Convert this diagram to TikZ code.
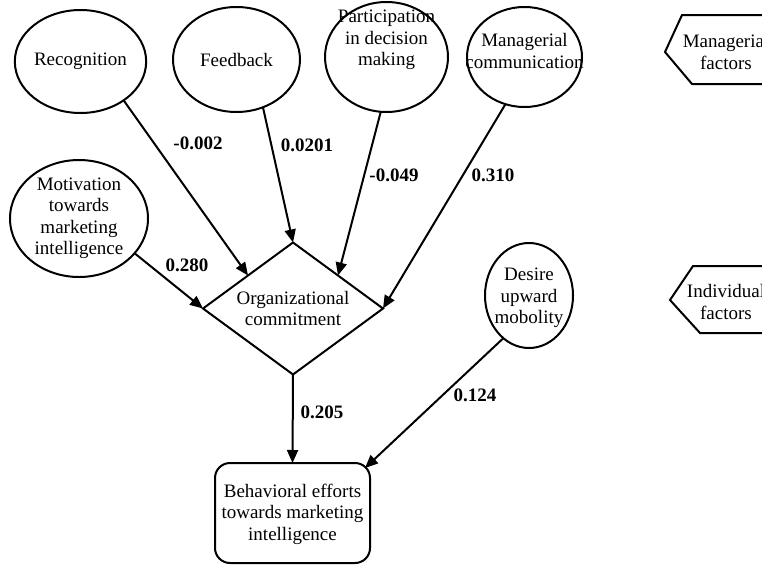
\documentclass[tikz,border=0pt]{standalone}
\usepackage{fontspec}
\setmainfont{Liberation Serif}
\usetikzlibrary{shapes.geometric,arrows.meta,calc}
\begin{document}
\begin{tikzpicture}[x=1pt,y=-1pt,
  every node/.style={font=\fontsize{19}{21.5}\selectfont, align=center, outer sep=0pt},
  ell/.style={draw, ellipse, line width=2pt, inner sep=0pt},
  dia/.style={draw, diamond, line width=2pt, inner sep=0pt, aspect=1.36, minimum width=180pt, minimum height=132pt},
  box/.style={draw, rectangle, rounded corners=15pt, line width=2pt, inner sep=0pt, minimum width=155pt, minimum height=100pt},
  txt/.style={inner sep=0pt},
  lab/.style={inner sep=0pt, font=\fontsize{19}{21.5}\selectfont\bfseries},
  arr/.style={line width=2pt, -{Triangle[length=13pt,width=11pt]}},
  hexa/.style={draw, line width=2pt, line join=miter}
]
\useasboundingbox (0,0) rectangle (762,565);
\clip (0,0) rectangle (762,565);

% ellipses
\node[ell, minimum width=115pt, minimum height=103pt] (rec) at (80.5,61.5) {Recognition};
\node[ell, minimum width=127pt, minimum height=105pt] (fb) at (236.5,59.5) {Feedback};
\node[ell, minimum width=123pt, minimum height=110pt] (par) at (386.5,57) {};
\node[txt] (partxt) at (386.5,40) {Participation\\in decision\\making};
\node[ell, minimum width=115pt, minimum height=100pt] (mc) at (524.5,57) {};
\node[txt] (mctxt) at (524.5,51) {Managerial\\communication};
\node[ell, minimum width=138pt, minimum height=117pt] (mot) at (79,218.5) {Motivation\\towards\\marketing\\intelligence};
\node[ell, minimum width=88pt, minimum height=105pt] (des) at (529,295.5) {};
\node[txt] (destxt) at (529,298) {Desire\\upward\\mobolity};

% diamond and box
\node[dia] (oc) at (293,308.5) {Organizational\\commitment};
\node[box] (beh) at (292.5,513) {};
\node[txt] (behtxt) at (292.5,514) {Behavioral efforts\\towards marketing\\intelligence};

% factor tags (cut by the right edge, as in the reference)
\draw[hexa] (682,15) -- (665,52) -- (692,84) -- (790,84) -- (790,15) -- cycle;
\node[txt] (mf) at (726,52) {Managerial\\factors};
\draw[hexa] (693,266) -- (670,300) -- (700,333) -- (790,333) -- (790,266) -- cycle;
\node[txt] (inf) at (726,302) {Individual\\factors};

% connectors
\draw[arr] (rec.-42) -- (oc.north west);
\draw[arr] (fb.-61) -- (oc.north);
\draw[arr] (par.-96) -- (oc.north east);
\draw[arr] (mc.-112) -- (oc.east);
\draw[arr] (mot.-32) -- (oc.west);
\draw[arr] (oc.south) -- (beh.north);
\draw[arr] (des.-121) -- ([xshift=-5pt,yshift=-5pt]beh.north east);

% labels
\node[lab] (l1) at (198,143) {-0.002};
\node[lab] (l2) at (307,145) {0.0201};
\node[lab] (l3) at (394,175) {-0.049};
\node[lab] (l4) at (493,175) {0.310};
\node[lab] (l5) at (187,265) {0.280};
\node[lab] (l6) at (322,412) {0.205};
\node[lab] (l7) at (475,395) {0.124};
\end{tikzpicture}
\end{document}
